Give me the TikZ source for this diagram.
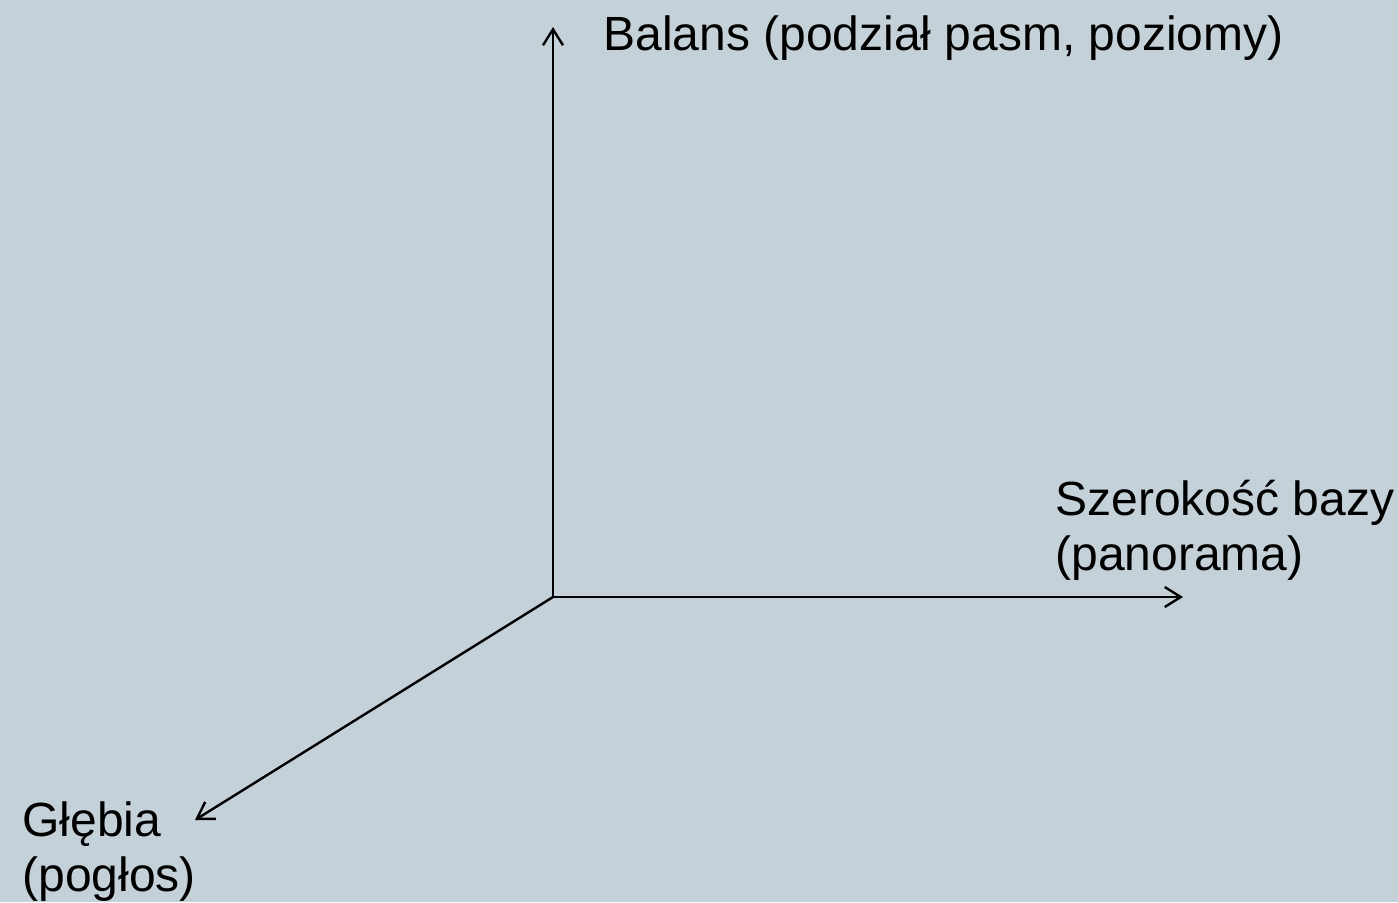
\documentclass[tikz,border=0pt]{standalone}
\usepackage{fontspec}
\setmainfont{Liberation Sans}
\usetikzlibrary{arrows.meta}
\definecolor{bg}{RGB}{197,209,216}
\begin{document}
\begin{tikzpicture}[x=0.5pt,y=-0.5pt,
  axis/.style={line width=1.2pt,-{Straight Barb[length=8pt,width=10pt,line width=1.2pt]}},
  lbl/.style={anchor=west,inner sep=0pt,align=left,font=\fontsize{24pt}{27.5pt}\selectfont}]
\fill[bg] (0,0) rectangle (1398,902);
\useasboundingbox (0,0) rectangle (1398,902);
\coordinate (o) at (553,597);
\coordinate (top) at (553,27);
\coordinate (right) at (1183,597);
\coordinate (diag) at (195,820);
\draw[axis] (o) -- (top);
\draw[axis] (o) -- (right);
\draw[axis] (o) -- (diag);
\node[lbl] (balans) at (603,38) {Balans (podział pasm, poziomy)};
\node[lbl] (szer) at (1055,530) {Szerokość bazy\\(panorama)};
\node[lbl] (glebia) at (22,852) {Głębia\\(pogłos)};
\end{tikzpicture}
\end{document}
